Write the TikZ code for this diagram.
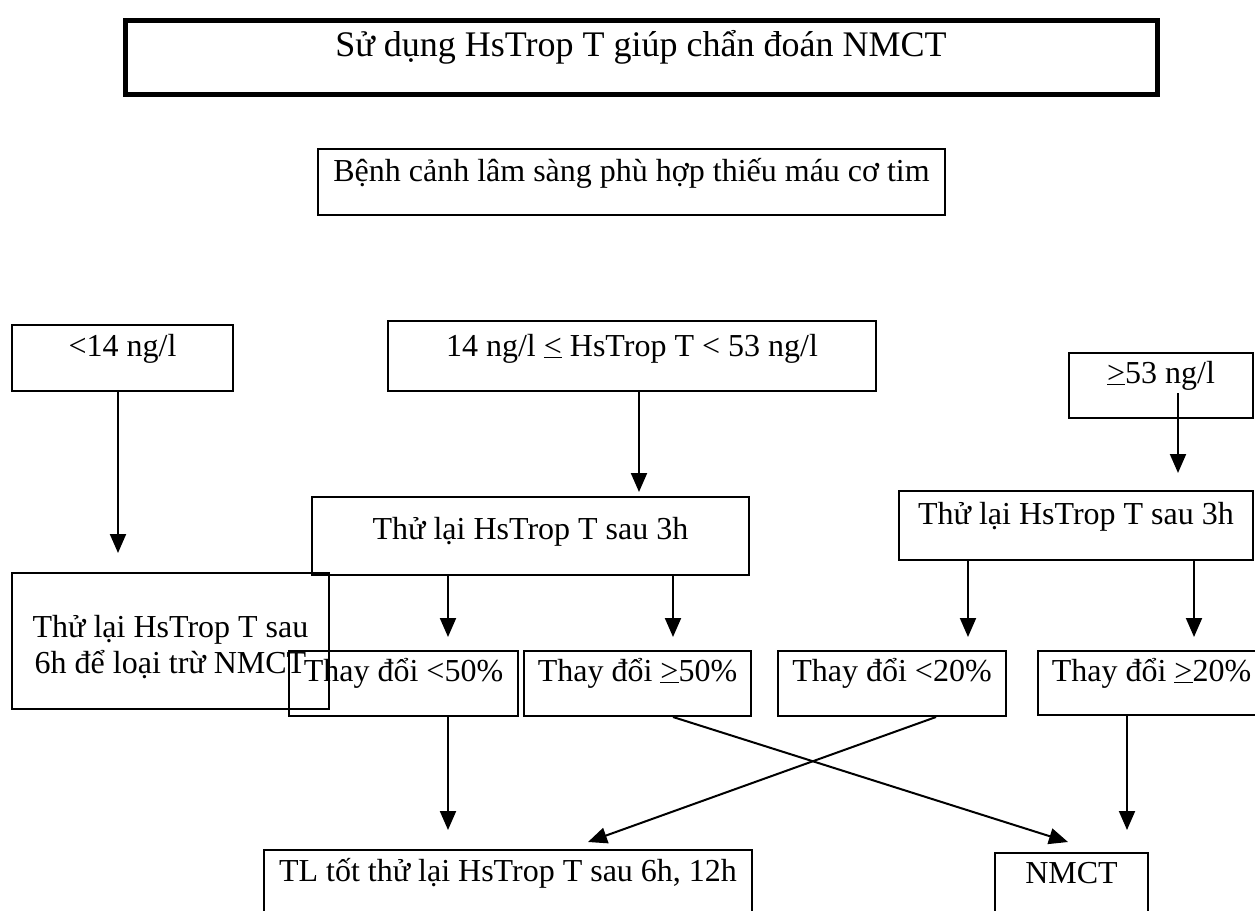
\documentclass[tikz,border=0pt]{standalone}
\usepackage{fontspec}
\setmainfont{Liberation Serif}
\usetikzlibrary{arrows.meta}
\begin{document}
\begin{tikzpicture}[x=1pt,y=-1pt,
  bx/.style={draw, line width=2pt, inner sep=0pt, anchor=north west, font=\fontsize{32}{36}\selectfont},
  arr/.style={line width=2pt, -{Triangle[length=19pt,width=16pt]}}]
\useasboundingbox (0,0) rectangle (1255,910);
\fill[white] (0,0) rectangle (1255,910);
\clip (0,0) rectangle (1255,910);

% title and context
\node[bx, line width=5pt, font=\fontsize{36}{40}\selectfont, minimum width=1032pt, text height=36.5pt, text depth=37.5pt] (title) at (122.5,17.5) {Sử dụng HsTrop T giúp chẩn đoán NMCT};
\node[bx, minimum width=627pt, text height=32pt, text depth=34pt] (clin) at (317,148) {Bệnh cảnh lâm sàng phù hợp thiếu máu cơ tim};

% first level
\node[bx, minimum width=221pt, text height=31pt, text depth=35pt] (lo) at (11,324) {<14 ng/l};
\node[bx, minimum width=488pt, text height=35pt, text depth=35pt] (mid) at (387,320) {14 ng/l \underline{<} HsTrop T < 53 ng/l};
\node[bx, minimum width=184pt, text height=30pt, text depth=35pt] (hi) at (1068,352) {\underline{>}53 ng/l};

% second level
\node[bx, minimum width=317pt, minimum height=136pt, align=center] (six) at (11,572) {\rule{0pt}{34pt}Thử lại HsTrop T sau\\6h để loại trừ NMCT};
\node[bx, minimum width=437pt, text height=42pt, text depth=36pt] (r3m) at (311,496) {Thử lại HsTrop T sau 3h};
\node[bx, minimum width=354pt, text height=33pt, text depth=36pt] (r3r) at (898,490) {Thử lại HsTrop T sau 3h};

% changes
\node[bx, minimum width=229pt, text height=30pt, text depth=35pt] (c1) at (288,650) {Thay đổi <50\%};
\node[bx, minimum width=227pt, text height=30pt, text depth=35pt] (c2) at (523,650) {Thay đổi \underline{>}50\%};
\node[bx, minimum width=228pt, text height=30pt, text depth=35pt] (c3) at (777,650) {Thay đổi <20\%};
\node[bx, minimum width=227pt, text height=30pt, text depth=34pt] (c4) at (1037,650) {Thay đổi \underline{>}20\%};

% outcomes
\node[bx, minimum width=488pt, text height=31pt, text depth=40pt] (tl) at (263,849) {TL tốt thử lại HsTrop T sau 6h, 12h};
\node[bx, minimum width=153pt, text height=30pt, text depth=40pt] (nm) at (994,852) {NMCT};

% arrow end points
\coordinate (e1) at (118,553);
\coordinate (e2) at (639,492);
\coordinate (s3) at (1178,393);
\coordinate (e3) at (1178,473);
\coordinate (e4) at (448,637);
\coordinate (e5) at (673,637);
\coordinate (e6) at (968,637);
\coordinate (e7) at (1194,637);
\coordinate (e8) at (448,830);
\coordinate (e9) at (1068,842);
\coordinate (e10) at (588,842);
\coordinate (e11) at (1127,830);

\draw[arr] ([xshift=107pt]lo.south west) -- (e1);
\draw[arr] ([xshift=252pt]mid.south west) -- (e2);
\draw[arr] (s3) -- (e3);
\draw[arr] ([xshift=137pt]r3m.south west) -- (e4);
\draw[arr] ([xshift=362pt]r3m.south west) -- (e5);
\draw[arr] ([xshift=70pt]r3r.south west) -- (e6);
\draw[arr] ([xshift=296pt]r3r.south west) -- (e7);
\draw[arr] ([xshift=160pt]c1.south west) -- (e8);
\draw[arr] ([xshift=150pt]c2.south west) -- (e9);
\draw[arr] ([xshift=159pt]c3.south west) -- (e10);
\draw[arr] ([xshift=90pt]c4.south west) -- (e11);
\end{tikzpicture}
\end{document}
